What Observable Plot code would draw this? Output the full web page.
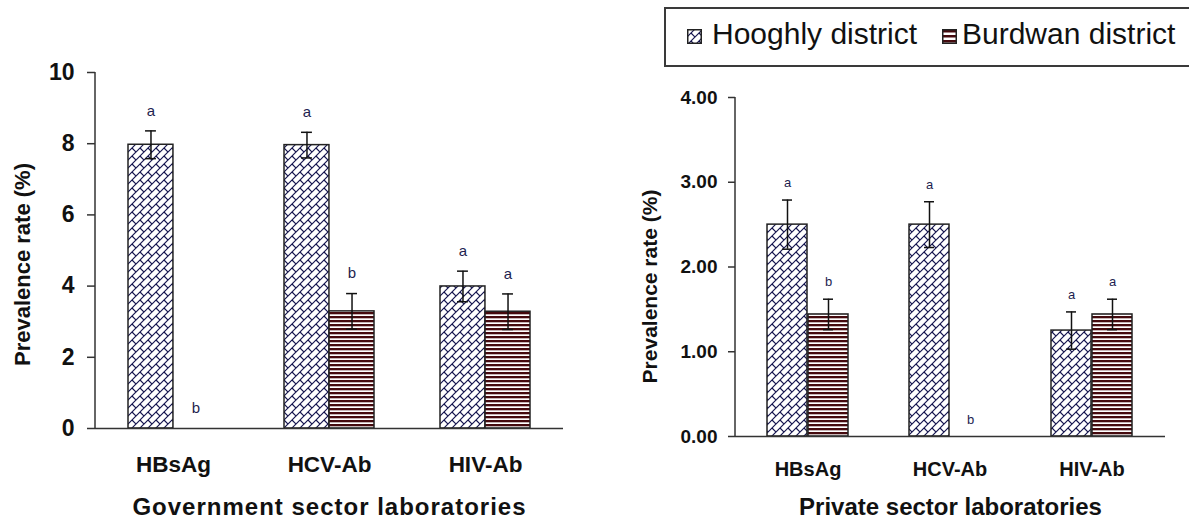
<!DOCTYPE html>
<html><head><meta charset="utf-8">
<script src="https://cdn.jsdelivr.net/npm/d3@7"></script>
<script src="https://cdn.jsdelivr.net/npm/@observablehq/plot@0.6"></script>
<style>
html,body{margin:0;padding:0;background:#fff;overflow:hidden;}
#root{position:relative;width:1189px;height:531px;overflow:hidden;font-family:"Liberation Sans",Arial,sans-serif;color:#111;}
.chart{position:absolute;top:0;}
#legend{position:absolute;left:664px;top:7px;width:560px;height:60px;border:2px solid #3a3a3a;box-sizing:border-box;}
.lg-text{position:absolute;font-size:30px;line-height:30px;white-space:nowrap;color:#111;}
.lg-sw{position:absolute;width:15px;height:15px;}
</style></head><body>
<div id="root">
  <svg width="0" height="0" style="position:absolute;left:0;top:0">
    <defs>
      <pattern id="brick" patternUnits="userSpaceOnUse" width="8" height="8">
        <rect width="8" height="8" fill="#fff"/>
        <path d="M-1,9L9,-1M-1,1L1,-1M7,9L9,7M4,4L8,8" stroke="#15154f" stroke-width="1.2" fill="none"/>
      </pattern>
      <pattern id="stripe" patternUnits="userSpaceOnUse" width="4" height="4">
        <rect width="4" height="4" fill="#fff"/>
        <rect width="4" height="2.3" fill="#450a0e"/>
      </pattern>
      <pattern id="stripeS" patternUnits="userSpaceOnUse" width="5" height="5">
        <rect width="5" height="5" fill="#fff"/>
        <rect y="1" width="5" height="2.5" fill="#450a0e"/>
      </pattern>
    </defs>
  </svg>
  <div id="left" class="chart" style="left:0"></div>
  <div id="right" class="chart" style="left:600px"></div>
  <div id="legend"></div>
  <svg class="lg-sw" style="left:687px;top:29px" width="15" height="15"><rect x="0.75" y="0.75" width="13.5" height="13.5" fill="url(#brick)" stroke="#222" stroke-width="1.5"/></svg>
  <div class="lg-text" style="left:712px;top:18.6px">Hooghly district</div>
  <svg class="lg-sw" style="left:942px;top:29px" width="15" height="15"><rect x="0.75" y="0.75" width="13.5" height="13.5" fill="url(#stripeS)" stroke="#222" stroke-width="1.5"/></svg>
  <div class="lg-text" style="left:962px;top:18.6px">Burdwan district</div>
</div>
<script>
// ---- Data ----
const categories = ["HBsAg", "HCV-Ab", "HIV-Ab"];
const districts = ["Hooghly district", "Burdwan district"];

// Government sector laboratories
const govHooghly = [7.97, 7.96, 3.99];
const govHooghlyErr = [0.39, 0.36, 0.43];
const govHooghlyLetters = ["a", "a", "a"];
const govBurdwan = [0, 3.29, 3.28];
const govBurdwanErr = [0, 0.50, 0.50];
const govBurdwanLetters = ["b", "b", "a"];
const govTicks = [0, 2, 4, 6, 8, 10];

// Private sector laboratories
const privHooghly = [2.50, 2.50, 1.25];
const privHooghlyErr = [0.29, 0.27, 0.22];
const privHooghlyLetters = ["a", "a", "a"];
const privBurdwan = [1.44, 0, 1.44];
const privBurdwanErr = [0.18, 0, 0.18];
const privBurdwanLetters = ["b", "b", "a"];
const privTicks = [0, 1, 2, 3, 4];

const FONT = "'Liberation Sans', Arial, sans-serif";

function chart(o) {
  const H = categories.map((c, i) => ({cat: c, v: o.hVals[i], e: o.hErr[i], l: o.hLet[i]}));
  const B = categories.map((c, i) => ({cat: c, v: o.bVals[i], e: o.bErr[i], l: o.bLet[i]}));
  const W = o.width - o.mL - o.mR;
  const step = W / (categories.length - o.pi + 2 * o.po);
  const bw = step * (1 - o.pi);
  const q = bw / 4;
  const c = o.capHalf;
  const errStyle = {stroke: "#111", strokeWidth: 1.5};
  const yAxisLine = (index, scales, values, dims) => {
    const l = document.createElementNS("http://www.w3.org/2000/svg", "line");
    l.setAttribute("x1", dims.marginLeft); l.setAttribute("x2", dims.marginLeft);
    l.setAttribute("y1", dims.marginTop); l.setAttribute("y2", dims.height - dims.marginBottom);
    l.setAttribute("stroke", "#333"); l.setAttribute("stroke-width", 1.5);
    return l;
  };
  const p = Plot.plot({
    width: o.width, height: o.height,
    marginLeft: o.mL, marginRight: o.mR, marginTop: o.mT, marginBottom: o.mB,
    style: {fontFamily: FONT, color: "#111", background: "transparent", overflow: "visible"},
    x: {domain: categories, paddingInner: o.pi, paddingOuter: o.po},
    y: {domain: o.domain},
    marks: [
      Plot.barY(H.filter(d => d.v > 0), {x: "cat", y: "v", fill: "url(#brick)", stroke: "#222", strokeWidth: 1.5, insetRight: bw / 2}),
      Plot.barY(B.filter(d => d.v > 0), {x: "cat", y: "v", fill: "url(#stripe)", stroke: "#222", strokeWidth: 1.5, insetLeft: bw / 2}),
      Plot.ruleY([0], {stroke: "#333", strokeWidth: 1.5}),
      yAxisLine,
      Plot.ruleX(H.filter(d => d.e > 0), {x: "cat", y1: d => d.v - d.e, y2: d => d.v + d.e, dx: -q, ...errStyle}),
      Plot.ruleX(B.filter(d => d.e > 0), {x: "cat", y1: d => d.v - d.e, y2: d => d.v + d.e, dx: q, ...errStyle}),
      Plot.tickY(H.filter(d => d.e > 0), {x: "cat", y: d => d.v + d.e, insetLeft: q - c, insetRight: 3 * q - c, ...errStyle}),
      Plot.tickY(H.filter(d => d.e > 0), {x: "cat", y: d => d.v - d.e, insetLeft: q - c, insetRight: 3 * q - c, ...errStyle}),
      Plot.tickY(B.filter(d => d.e > 0), {x: "cat", y: d => d.v + d.e, insetLeft: 3 * q - c, insetRight: q - c, ...errStyle}),
      Plot.tickY(B.filter(d => d.e > 0), {x: "cat", y: d => d.v - d.e, insetLeft: 3 * q - c, insetRight: q - c, ...errStyle}),
      Plot.text(H, {x: "cat", y: d => d.v + d.e, text: "l", dx: -q, dy: o.letterDy, fontSize: o.letterFont, fill: "#1e1e50"}),
      Plot.text(B, {x: "cat", y: d => d.v + d.e, text: "l", dx: q, dy: o.letterDy, fontSize: o.letterFont, fill: "#1e1e50"}),
      Plot.axisY({ticks: o.ticks, tickFormat: o.fmt, tickSize: o.tickSize, tickPadding: o.tickPad, fontSize: o.tickFont, fontWeight: "bold", label: null, stroke: "#333", strokeWidth: 1.5}),
      Plot.axisX({tickSize: 0, tickPadding: o.xPad, fontSize: o.xFont, fontWeight: "bold", label: null}),
      Plot.text([o.yLabel], {text: d => d, frameAnchor: "left", textAnchor: "middle", rotate: -90, dx: o.yLabelDx, dy: o.yLabelDy, fontSize: o.yLabelFont, fontWeight: "bold"}),
      Plot.text([o.title], {text: d => d, frameAnchor: "bottom", dy: o.titleDy, fontSize: o.titleFont, fontWeight: "bold"})
    ]
  });
  d3.select(p).selectAll("text").filter(function () { return this.textContent === o.title; })
    .style("letter-spacing", o.titleSpacing + "px");
  document.getElementById(o.el).appendChild(p);
}

chart({
  el: "left", width: 600, height: 531, mL: 95, mR: 37, mT: 72, mB: 103,
  domain: [0, 10], ticks: govTicks, fmt: d3.format("d"), pi: 0.423, po: 0.21,
  hVals: govHooghly, hErr: govHooghlyErr, hLet: govHooghlyLetters,
  bVals: govBurdwan, bErr: govBurdwanErr, bLet: govBurdwanLetters,
  tickFont: 23, tickSize: 8, tickPad: 13, xFont: 22.5, xPad: 28,
  letterFont: 15, letterDy: -20, capHalf: 5.5,
  yLabel: "Prevalence rate (%)", yLabelFont: 22, yLabelDx: -72.5, yLabelDy: 14,
  title: "Government sector laboratories", titleFont: 24, titleDy: 86, titleSpacing: 1
});

chart({
  el: "right", width: 589, height: 531, mL: 135, mR: 24, mT: 97, mB: 95,
  domain: [0, 4], ticks: privTicks, fmt: d3.format(".2f"), pi: 0.4266, po: 0.2168,
  hVals: privHooghly, hErr: privHooghlyErr, hLet: privHooghlyLetters,
  bVals: privBurdwan, bErr: privBurdwanErr, bLet: privBurdwanLetters,
  tickFont: 19, tickSize: 7, tickPad: 11, xFont: 20, xPad: 25,
  letterFont: 13, letterDy: -17, capHalf: 5.5,
  yLabel: "Prevalence rate (%)", yLabelFont: 21, yLabelDx: -85, yLabelDy: 19.5,
  title: "Private sector laboratories", titleFont: 24, titleDy: 78, titleSpacing: 0
});
</script>
</body></html>
